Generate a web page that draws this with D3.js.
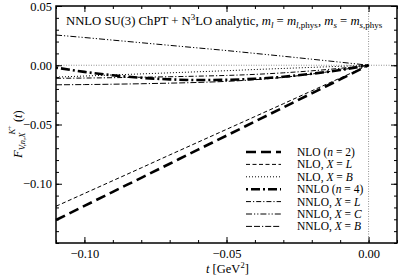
<!DOCTYPE html>
<html>
<head>
<meta charset="utf-8">
<script src="https://cdn.jsdelivr.net/npm/d3@7"></script>
<style>
  body { margin: 0; background: #fff; }
  svg, svg text { font-family: "Liberation Serif", "DejaVu Serif", serif; }
  svg { display: block; }
</style>
</head>
<body>
<div class="myChart"></div>
<script>
// t values (GeV^2) where the curves are sampled
var tVals = [-0.11, -0.10, -0.09, -0.08, -0.07, -0.06, -0.05, -0.04, -0.03, -0.02, -0.01, 0.00];

// curve values
var nloN2   = [-0.1306, -0.1187, -0.1068, -0.0950, -0.0831, -0.0712, -0.0594, -0.0475, -0.0356, -0.0237, -0.0119, 0];
var nloL    = [-0.1190, -0.1082, -0.0974, -0.0866, -0.0757, -0.0649, -0.0541, -0.0433, -0.0325, -0.0216, -0.0108, 0];
var nloB    = [-0.0100, -0.0091, -0.0082, -0.0073, -0.0064, -0.0055, -0.0046, -0.0036, -0.0027, -0.0018, -0.0009, 0];
var nnloN4  = [-0.0020, -0.0056, -0.0085, -0.0106, -0.0119, -0.0125, -0.0123, -0.0114, -0.0097, -0.0072, -0.0040, 0];
var nnloL   = [-0.0110, -0.0108, -0.0105, -0.0101, -0.0097, -0.0092, -0.0086, -0.0077, -0.0064, -0.0047, -0.0026, 0];
var nnloC   = [0.0255, 0.0234, 0.0212, 0.0190, 0.0168, 0.0146, 0.0124, 0.0100, 0.0076, 0.0051, 0.0026, 0];
var nnloB   = [-0.0165, -0.0163, -0.0160, -0.0156, -0.0151, -0.0145, -0.0136, -0.0122, -0.0102, -0.0074, -0.0040, 0];

var xTicks = [-0.10, -0.05, 0.00];
var yTicks = [0.05, 0.00, -0.05, -0.10];

var series = [
  { name: 'NLO (n = 2)', vals: nloN2, w: 2.6, dash: '10,5' },
  { name: 'NLO, X = L', vals: nloL, w: 1, dash: '4,2.5' },
  { name: 'NLO, X = B', vals: nloB, w: 1, dash: '1,2' },
  { name: 'NNLO (n = 4)', vals: nnloN4, w: 2.6, dash: '2,3,9,3' },
  { name: 'NNLO, X = L', vals: nnloL, w: 1, dash: '5,2,1.2,2' },
  { name: 'NNLO, X = C', vals: nnloC, w: 1, dash: '6,2,1.2,2,1.2,2' },
  { name: 'NNLO, X = B', vals: nnloB, w: 1, dash: '6,2,6,2,1.2,2' }
];

var w = 399, h = 277;
var pL = 56, pR = 397, pT = 6, pB = 243;

var x = d3.scaleLinear().domain([-0.11, 0.01]).range([pL, pR]);
var y = d3.scaleLinear().domain([-0.15, 0.05]).range([pB, pT]);

var svg = d3.select('.myChart').append('svg')
  .attr('width', w)
  .attr('height', h);

// zero lines
svg.append('line')
  .attr('x1', pL).attr('x2', pR).attr('y1', y(0)).attr('y2', y(0))
  .attr('stroke', '#777').attr('stroke-width', 0.8).attr('stroke-dasharray', '1,1.5');
svg.append('line')
  .attr('x1', x(0)).attr('x2', x(0)).attr('y1', pT).attr('y2', pB)
  .attr('stroke', '#777').attr('stroke-width', 0.8).attr('stroke-dasharray', '1,1.5');

// curves
var line = d3.line()
  .x(function (d) { return x(d[0]); })
  .y(function (d) { return y(d[1]); })
  .curve(d3.curveMonotoneX);

svg.selectAll('path.curve')
  .data(series)
  .enter()
  .append('path')
    .attr('class', 'curve')
    .attr('d', function (s) { return line(tVals.map(function (t, i) { return [t, s.vals[i]]; })); })
    .attr('fill', 'none')
    .attr('stroke', '#000')
    .attr('stroke-width', function (s) { return s.w; })
    .attr('stroke-dasharray', function (s) { return s.dash; });

// axes: major + minor ticks, pointing inward on all sides
var xMinor = d3.range(-0.11, 0.0101, 0.01);
var yMinor = d3.range(-0.15, 0.0501, 0.01);

function styleAxis(g) {
  g.attr('font-family', null);
  g.select('.domain').remove();
  g.selectAll('line').attr('stroke', '#000').attr('stroke-width', 1);
  g.selectAll('text').attr('fill', '#000')
    .style('font-size', '12.5px')
    .style('font-family', '"Liberation Serif", serif');
}

svg.append('g').attr('transform', 'translate(0,' + pB + ')')
  .call(d3.axisBottom(x).tickValues(xMinor).tickSize(-3).tickFormat(''))
  .call(styleAxis);
svg.append('g').attr('transform', 'translate(0,' + pB + ')')
  .call(d3.axisBottom(x).tickValues(xTicks).tickSize(-6).tickPadding(6).tickFormat(d3.format('.2f')))
  .call(styleAxis);
svg.append('g').attr('transform', 'translate(0,' + pT + ')')
  .call(d3.axisTop(x).tickValues(xMinor).tickSize(-3).tickFormat(''))
  .call(styleAxis);
svg.append('g').attr('transform', 'translate(0,' + pT + ')')
  .call(d3.axisTop(x).tickValues(xTicks).tickSize(-6).tickFormat(''))
  .call(styleAxis);
svg.append('g').attr('transform', 'translate(' + pL + ',0)')
  .call(d3.axisLeft(y).tickValues(yMinor).tickSize(-3).tickFormat(''))
  .call(styleAxis);
svg.append('g').attr('transform', 'translate(' + pL + ',0)')
  .call(d3.axisLeft(y).tickValues(yTicks).tickSize(-6).tickPadding(4).tickFormat(d3.format('.2f')))
  .call(styleAxis);
svg.append('g').attr('transform', 'translate(' + pR + ',0)')
  .call(d3.axisRight(y).tickValues(yMinor).tickSize(-3).tickFormat(''))
  .call(styleAxis);
svg.append('g').attr('transform', 'translate(' + pR + ',0)')
  .call(d3.axisRight(y).tickValues(yTicks).tickSize(-6).tickFormat(''))
  .call(styleAxis);

// frame
svg.append('rect')
  .attr('x', pL).attr('y', pT)
  .attr('width', pR - pL).attr('height', pB - pT)
  .attr('fill', 'none').attr('stroke', '#000').attr('stroke-width', 1.5);

// title
var title = svg.append('text').attr('x', 66).attr('y', 25).attr('font-size', '12.7px');
title.append('tspan').text('NNLO SU(3) ChPT + N');
title.append('tspan').attr('dy', -5).attr('font-size', '9px').text('3');
title.append('tspan').attr('dy', 5).text('LO analytic,  ');
title.append('tspan').attr('font-style', 'italic').text('m');
title.append('tspan').attr('font-style', 'italic').attr('font-size', '9px').attr('dy', 3).text('l');
title.append('tspan').attr('dy', -3).text(' = ');
title.append('tspan').attr('font-style', 'italic').text('m');
title.append('tspan').attr('font-style', 'italic').attr('font-size', '9px').attr('dy', 3).text('l,');
title.append('tspan').attr('font-size', '9px').text('phys');
title.append('tspan').attr('dy', -3).text(',  ');
title.append('tspan').attr('font-style', 'italic').text('m');
title.append('tspan').attr('font-style', 'italic').attr('font-size', '9px').attr('dy', 3).text('s');
title.append('tspan').attr('dy', -3).text(' = ');
title.append('tspan').attr('font-style', 'italic').text('m');
title.append('tspan').attr('font-style', 'italic').attr('font-size', '9px').attr('dy', 3).text('s,');
title.append('tspan').attr('font-size', '9px').text('phys');

// x axis label
var xl = svg.append('text').attr('x', 206).attr('y', 273).attr('font-size', '12.5px');
xl.append('tspan').attr('font-style', 'italic').text('t');
xl.append('tspan').text('  [GeV');
xl.append('tspan').attr('dy', -5).attr('font-size', '8.5px').text('2');
xl.append('tspan').attr('dy', 5).text(']');

// y axis label
var yl = svg.append('text').attr('transform', 'translate(22,158) rotate(-90)').attr('font-size', '12.5px');
yl.append('tspan').attr('font-style', 'italic').text('F');
yl.append('tspan').attr('font-style', 'italic').attr('font-size', '8.5px').attr('dy', 3).text('V,n,X');
yl.append('tspan').attr('font-style', 'italic').attr('font-size', '8.5px').attr('dy', -10).attr('dx', -2).text('K');
yl.append('tspan').attr('font-size', '6.5px').attr('dy', -3).text('+');
yl.append('tspan').attr('dy', 10).text(' (');
yl.append('tspan').attr('font-style', 'italic').text('t');
yl.append('tspan').text(')');

// legend
var legend = svg.selectAll('g.leg')
  .data(series)
  .enter()
  .append('g')
    .attr('class', 'leg')
    .attr('transform', function (d, i) { return 'translate(0,' + (152 + i * 12.4) + ')'; });

legend.append('line')
  .attr('x1', 246).attr('x2', 281).attr('y1', 0).attr('y2', 0)
  .attr('stroke', '#000')
  .attr('stroke-width', function (s) { return s.w; })
  .attr('stroke-dasharray', function (s) { return s.dash; });

legend.append('text')
  .attr('x', 297).attr('y', 4)
  .attr('font-size', '11.5px')
  .each(function (s) {
    var t = d3.select(this);
    var parts = s.name.split(/(n|X|L|C|B)(?= |\)|$)/);
    parts.forEach(function (p) {
      if (!p) return;
      var it = /^(n|X|L|C|B)$/.test(p);
      t.append('tspan').attr('font-style', it ? 'italic' : null).text(p);
    });
  });
</script>
</body>
</html>
